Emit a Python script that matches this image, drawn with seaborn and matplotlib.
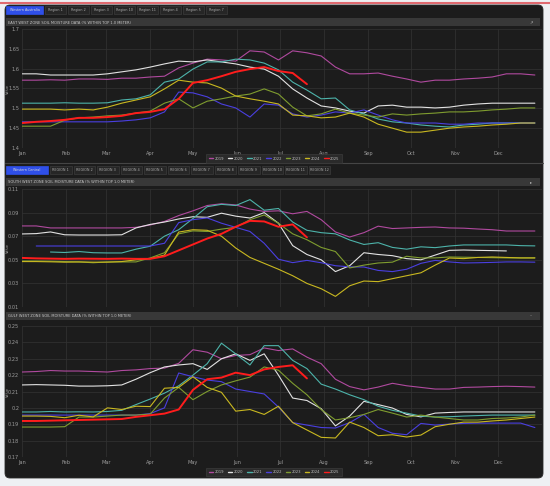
import numpy as np
import pandas as pd
import seaborn as sns
import matplotlib.pyplot as plt
from matplotlib.patches import Rectangle, FancyBboxPatch
from matplotlib.lines import Line2D
from matplotlib.ticker import FuncFormatter

nan = np.nan

years = ["2019", "2020", "2021", "2022", "2023", "2024", "2025"]
line_colors = ["#b04a9f", "#e2e2e2", "#4db3aa", "#4a3fe0", "#7f9c2f", "#c9b820", "#ff1c1c"]

months = ["Jan", "Feb", "Mar", "Apr", "May", "Jun", "Jul", "Aug", "Sep", "Oct", "Nov", "Dec"]
month_starts = [0, 31, 59, 90, 120, 151, 181, 212, 243, 273, 304, 334]

days = [0, 10, 20, 30, 40, 50, 60, 70, 80, 90, 100, 110, 120, 130, 140, 150, 160, 170, 180,
        190, 200, 210, 220, 230, 240, 250, 260, 270, 280, 290, 300, 310, 320, 330, 340, 350, 360]

top_ticks = [1.4, 1.45, 1.5, 1.55, 1.6, 1.65, 1.7]
mid_ticks = [0.01, 0.03, 0.05, 0.07, 0.09, 0.11]
bot_ticks = [0.17, 0.18, 0.19, 0.2, 0.21, 0.22, 0.23, 0.24, 0.25]

# ---- panel 1
top_2019 = [1.571, 1.571, 1.572, 1.571, 1.574, 1.574, 1.573, 1.576, 1.576, 1.579, 1.581, 1.602, 1.614,
            1.624, 1.622, 1.619, 1.645, 1.642, 1.622, 1.645, 1.640, 1.632, 1.604, 1.587, 1.587, 1.589,
            1.581, 1.574, 1.566, 1.571, 1.571, 1.574, 1.576, 1.579, 1.587, 1.587, 1.584]
top_2020 = [1.587, 1.587, 1.584, 1.584, 1.584, 1.584, 1.587, 1.592, 1.597, 1.604, 1.612, 1.619, 1.617,
            1.622, 1.617, 1.612, 1.604, 1.599, 1.581, 1.549, 1.526, 1.506, 1.501, 1.493, 1.488, 1.506,
            1.508, 1.503, 1.503, 1.501, 1.503, 1.508, 1.511, 1.513, 1.513, 1.513, 1.513]
top_2021 = [1.513, 1.513, 1.513, 1.514, 1.513, 1.513, 1.514, 1.521, 1.524, 1.534, 1.566, 1.574, 1.599,
            1.617, 1.617, 1.624, 1.622, 1.614, 1.597, 1.566, 1.546, 1.524, 1.526, 1.496, 1.486, 1.473,
            1.466, 1.463, 1.458, 1.455, 1.453, 1.458, 1.460, 1.463, 1.463, 1.463, 1.463]
top_2022 = [1.466, 1.466, 1.466, 1.466, 1.466, 1.466, 1.466, 1.468, 1.471, 1.476, 1.491, 1.541, 1.539,
            1.529, 1.511, 1.501, 1.478, 1.511, 1.508, 1.486, 1.478, 1.483, 1.491, 1.488, 1.496, 1.483,
            1.471, 1.463, 1.463, 1.463, 1.460, 1.460, 1.463, 1.463, 1.463, 1.463, 1.463]
top_2023 = [1.455, 1.455, 1.455, 1.470, 1.476, 1.478, 1.481, 1.483, 1.488, 1.493, 1.513, 1.524, 1.501,
            1.518, 1.524, 1.531, 1.536, 1.549, 1.536, 1.503, 1.481, 1.486, 1.498, 1.488, 1.483, 1.478,
            1.486, 1.483, 1.486, 1.488, 1.491, 1.491, 1.493, 1.496, 1.498, 1.501, 1.501]
top_2024 = [1.498, 1.498, 1.498, 1.496, 1.498, 1.496, 1.503, 1.513, 1.521, 1.529, 1.549, 1.571, 1.566,
            1.564, 1.551, 1.531, 1.524, 1.518, 1.511, 1.483, 1.481, 1.476, 1.478, 1.488, 1.478, 1.460,
            1.450, 1.440, 1.440, 1.445, 1.450, 1.453, 1.455, 1.458, 1.460, 1.463, 1.463]
top_2025 = [1.463, 1.466, 1.468, 1.471, 1.476, 1.476, 1.478, 1.481, 1.488, 1.491, 1.498, 1.524, 1.564,
            1.571, 1.581, 1.592, 1.599, 1.604, 1.594, 1.589, 1.561, nan, nan, nan, nan, nan,
            nan, nan, nan, nan, nan, nan, nan, nan, nan, nan, nan]

# ---- panel 2
mid_2019 = [0.0787, 0.0787, 0.0770, 0.0770, 0.0770, 0.0770, 0.0770, 0.0770, 0.0775, 0.0795, 0.0825,
            0.0875, 0.0915, 0.0960, 0.0975, 0.0965, 0.0930, 0.0910, 0.0915, 0.0890, 0.0910, 0.0840,
            0.0736, 0.0693, 0.0730, 0.0785, 0.0765, 0.0770, 0.0775, 0.0778, 0.0770, 0.0768, 0.0761,
            0.0755, 0.0744, 0.0744, 0.0744]
mid_2020 = [0.0719, 0.0722, 0.0736, 0.0712, 0.0710, 0.0710, 0.0710, 0.0712, 0.0770, 0.0800, 0.0820,
            0.0846, 0.0865, 0.0860, 0.0895, 0.0870, 0.0854, 0.0900, 0.0810, 0.0620, 0.0545, 0.0500,
            0.0400, 0.0450, 0.0560, 0.0545, 0.0535, 0.0510, 0.0500, 0.0540, 0.0580, 0.0583, 0.0580,
            0.0578, 0.0575, nan, nan]
mid_2021 = [nan, nan, 0.0566, 0.0562, 0.0570, 0.0560, 0.0558, 0.0558, 0.0590, 0.0615, 0.0700,
            0.0755, 0.0850, 0.0950, 0.0970, 0.0960, 0.1010, 0.0920, 0.0935, 0.0820, 0.0750, 0.0730,
            0.0720, 0.0668, 0.0630, 0.0645, 0.0605, 0.0590, 0.0610, 0.0603, 0.0617, 0.0626, 0.0626,
            0.0626, 0.0626, 0.0620, 0.0618]
mid_2022 = [nan, 0.0617, 0.0617, 0.0617, 0.0617, 0.0617, 0.0617, 0.0617, 0.0617, 0.0617, 0.0640,
            0.0815, 0.0840, 0.0855, 0.0810, 0.0775, 0.0740, 0.0640, 0.0505, 0.0476, 0.0495, 0.0475,
            0.0450, 0.0440, 0.0439, 0.0410, 0.0400, 0.0420, 0.0470, 0.0495, 0.0482, 0.0473, 0.0475,
            0.0478, 0.0482, 0.0482, 0.0480]
mid_2023 = [0.0490, 0.0490, 0.0488, 0.0485, 0.0482, 0.0475, 0.0482, 0.0482, 0.0482, 0.0516, 0.0560,
            0.0720, 0.0745, 0.0740, 0.0760, 0.0775, 0.0840, 0.0880, 0.0810, 0.0720, 0.0670, 0.0605,
            0.0570, 0.0431, 0.0455, 0.0473, 0.0480, 0.0530, 0.0516, 0.0516, 0.0524, 0.0522, 0.0520,
            0.0518, 0.0516, 0.0516, 0.0516]
mid_2024 = [0.0485, 0.0485, 0.0483, 0.0480, 0.0482, 0.0480, 0.0480, 0.0485, 0.0500, 0.0510, 0.0540,
            0.0735, 0.0755, 0.0750, 0.0700, 0.0600, 0.0520, 0.0470, 0.0420, 0.0365, 0.0300, 0.0255,
            0.0190, 0.0280, 0.0320, 0.0315, 0.0340, 0.0365, 0.0390, 0.0455, 0.0515, 0.0510, 0.0520,
            0.0524, 0.0520, 0.0516, 0.0516]
mid_2025 = [0.0516, 0.0512, 0.0510, 0.0508, 0.0510, 0.0509, 0.0508, 0.0510, 0.0508, 0.0508, 0.0530,
            0.0580, 0.0630, 0.0680, 0.0720, 0.0780, 0.0830, 0.0825, 0.0780, 0.0800, 0.0690, nan,
            nan, nan, nan, nan, nan, nan, nan, nan, nan, nan, nan, nan, nan, nan, nan]

# ---- panel 3
bot_2019 = [0.2219, 0.2222, 0.2228, 0.2225, 0.2225, 0.2222, 0.2219, 0.2228, 0.2232, 0.2240, 0.2243,
            0.2272, 0.2355, 0.2340, 0.2300, 0.2320, 0.2325, 0.2366, 0.2350, 0.2360, 0.2310, 0.2270,
            0.2175, 0.2130, 0.2110, 0.2127, 0.2150, 0.2135, 0.2125, 0.2115, 0.2115, 0.2125, 0.2127,
            0.2130, 0.2132, 0.2130, 0.2127]
bot_2020 = [0.2140, 0.2142, 0.2140, 0.2138, 0.2133, 0.2133, 0.2135, 0.2140, 0.2175, 0.2215, 0.2250,
            0.2262, 0.2270, 0.2235, 0.2300, 0.2330, 0.2290, 0.2330, 0.2200, 0.2060, 0.2045, 0.1995,
            0.1890, 0.1950, 0.2040, 0.2020, 0.1999, 0.1960, 0.1945, 0.1968, 0.1972, 0.1975, 0.1975,
            0.1975, 0.1975, 0.1975, 0.1975]
bot_2021 = [0.1975, 0.1975, 0.1978, 0.1975, 0.1976, 0.1975, 0.1978, 0.1985, 0.2020, 0.2054, 0.2090,
            0.2135, 0.2200, 0.2270, 0.2395, 0.2330, 0.2262, 0.2380, 0.2380, 0.2290, 0.2240, 0.2145,
            0.2115, 0.2080, 0.2050, 0.2010, 0.1985, 0.1968, 0.1950, 0.1944, 0.1946, 0.1950, 0.1953,
            0.1956, 0.1956, 0.1956, 0.1956]
bot_2022 = [0.1956, 0.1956, 0.1956, 0.1956, 0.1956, 0.1956, 0.1956, 0.1956, 0.1956, 0.1965, 0.2000,
            0.2213, 0.2190, 0.2170, 0.2160, 0.2115, 0.2100, 0.2085, 0.2005, 0.1910, 0.1895, 0.1880,
            0.1877, 0.1910, 0.1960, 0.1880, 0.1845, 0.1836, 0.1905, 0.1895, 0.1901, 0.1905, 0.1907,
            0.1907, 0.1907, 0.1907, 0.1880]
bot_2023 = [0.1883, 0.1883, 0.1883, 0.1885, 0.1944, 0.1944, 0.1950, 0.1956, 0.1956, 0.1962, 0.2060,
            0.2125, 0.2050, 0.2100, 0.2140, 0.2165, 0.2188, 0.2250, 0.2230, 0.2150, 0.2080, 0.1990,
            0.1926, 0.1940, 0.1960, 0.1990, 0.1968, 0.1944, 0.1956, 0.1944, 0.1935, 0.1926, 0.1926,
            0.1935, 0.1938, 0.1944, 0.1956]
bot_2024 = [0.1950, 0.1950, 0.1948, 0.1940, 0.1955, 0.1945, 0.2000, 0.1990, 0.2010, 0.2008, 0.2120,
            0.2125, 0.2190, 0.2125, 0.2095, 0.1980, 0.1990, 0.1960, 0.2010, 0.1910, 0.1865, 0.1820,
            0.1816, 0.1913, 0.1880, 0.1830, 0.1836, 0.1822, 0.1834, 0.1885, 0.1900, 0.1913, 0.1913,
            0.1920, 0.1926, 0.1935, 0.1944]
bot_2025 = [0.1920, 0.1920, 0.1922, 0.1924, 0.1926, 0.1928, 0.1930, 0.1932, 0.1945, 0.1955, 0.1965,
            0.1990, 0.2110, 0.2175, 0.2185, 0.2215, 0.2200, 0.2235, 0.2250, 0.2260, 0.2180, nan,
            nan, nan, nan, nan, nan, nan, nan, nan, nan, nan, nan, nan, nan, nan, nan]

top_tabs = ["Western Australia", "Region 1", "Region 2", "Region 3", "Region 10", "Region 11",
            "Region 4", "Region 5", "Region 7"]
mid_tabs = ["Western Central", "REGION 1", "REGION 2", "REGION 3", "REGION 4", "REGION 5", "REGION 6",
            "REGION 7", "REGION 8", "REGION 9", "REGION 10", "REGION 11", "REGION 12"]
titles = ["EAST WEST ZONE SOIL MOISTURE DATA (% WITHIN TOP 1.0 METER)",
          "SOUTH WEST ZONE SOIL MOISTURE DATA (% WITHIN TOP 1.0 METER)",
          "GULF WEST ZONE SOIL MOISTURE DATA (% WITHIN TOP 1.0 METER)"]
ylabel = "Value"


def long_frame(series):
    rows = []
    for yr, vals in zip(years, series):
        for d, v in zip(days, vals):
            rows.append({"day": d, "value": v, "year": yr})
    return pd.DataFrame(rows).dropna()


panels = [
    (long_frame([top_2019, top_2020, top_2021, top_2022, top_2023, top_2024, top_2025]), top_ticks),
    (long_frame([mid_2019, mid_2020, mid_2021, mid_2022, mid_2023, mid_2024, mid_2025]), mid_ticks),
    (long_frame([bot_2019, bot_2020, bot_2021, bot_2022, bot_2023, bot_2024, bot_2025]), bot_ticks),
]

sns.set_theme(style="dark")
plt.rcParams["font.family"] = ["DejaVu Sans"]

W, H = 550, 486
fig = plt.figure(figsize=(W / 100, H / 100), dpi=100)
fig.patch.set_facecolor("#eef0f3")

# background / chrome drawn in pixel coords
bg = fig.add_axes([0, 0, 1, 1], zorder=0)
bg.set_xlim(0, W)
bg.set_ylim(H, 0)
bg.axis("off")

PANEL = "#1c1c1c"
BAR = "#383838"
bg.add_patch(FancyBboxPatch((5, 5), 538, 473, boxstyle="round,pad=0,rounding_size=5",
                            facecolor=PANEL, edgecolor="#2a2a2a", linewidth=0.6))
bg.plot([0, W], [3.5, 3.5], color="#e06a70", linewidth=1.5)


def tab_row(labels, y, first_w, w):
    x = 6
    for i, lab in enumerate(labels):
        bw = first_w if i == 0 else w
        fc = "#2f4fe8" if i == 0 else "#262626"
        ec = "#2f4fe8" if i == 0 else "#3c3c3c"
        bg.add_patch(Rectangle((x, y), bw, 8.5, facecolor=fc, edgecolor=ec, linewidth=0.5))
        bg.text(x + bw / 2, y + 4.4, lab, fontsize=2.4, color="#d8d8d8" if i == 0 else "#aaaaaa",
                ha="center", va="center")
        x += bw + 2


def title_bar(y, text, icon):
    bg.add_patch(Rectangle((6, y), 534, 8, facecolor=BAR, edgecolor="none"))
    bg.text(8, y + 4.1, text, fontsize=2.6, color="#c8c8c8", ha="left", va="center")
    bg.text(531, y + 4.1, icon, fontsize=3, color="#bbbbbb", ha="center", va="center")


tab_row(top_tabs, 6, 37, 21)
title_bar(18.5, titles[0], "\u2197")
bg.plot([5, 543], [163.5, 163.5], color="#454545", linewidth=0.8)
tab_row(mid_tabs, 165.5, 42, 21.5)
title_bar(178, titles[1], "\u25b8")
title_bar(311.5, titles[2], "\u2013")

# plot axes: (top, bottom) in pixels
ax_pix = [(29, 148), (189, 307), (326, 457)]
x0, x1 = 22, 542
palette = dict(zip(years, line_colors))
widths = {yr: 0.8 for yr in years}
widths["2025"] = 1.4

axes = []
for i, ((df, ticks), (ytop, ybot)) in enumerate(zip(panels, ax_pix)):
    ax = fig.add_axes([x0 / W, 1 - ybot / H, (x1 - x0) / W, (ybot - ytop) / H], zorder=1)
    ax.set_facecolor(PANEL)
    sns.lineplot(data=df, x="day", y="value", hue="year", size="year", hue_order=years,
                 size_order=years, palette=palette, sizes=widths, estimator=None,
                 legend=False, ax=ax)
    ax.set_xlim(0, 365)
    ax.set_ylim(ticks[0], ticks[-1])
    ax.set_yticks(ticks)
    ax.yaxis.set_major_formatter(FuncFormatter(lambda v, p: f"{v:g}"))
    ax.set_xticks(month_starts)
    ax.set_xticklabels(months if i != 1 else [""] * 12)
    ax.tick_params(axis="both", length=0, labelsize=3.6, labelcolor="#9c9c9c", pad=2)
    ax.grid(True, color="#333333", linewidth=0.5)
    for s in ax.spines.values():
        s.set_visible(False)
    ax.set_xlabel("")
    ax.set_ylabel("")
    # rotated unit label sitting left of the tick labels
    bg.text(7.5, (ytop + ybot) / 2, ylabel, rotation=90, fontsize=2.6, color="#9c9c9c",
            ha="center", va="center")
    axes.append(ax)

handles = [Line2D([0], [0], color=c, linewidth=1.0) for c in line_colors]
for ycen in (158.5, 472):
    leg = fig.legend(handles, years, loc="center", bbox_to_anchor=(274 / W, 1 - ycen / H),
                     ncol=7, fontsize=2.7, frameon=True, facecolor="#2a2a2a", edgecolor="#3a3a3a",
                     handlelength=1.2, handletextpad=0.4, columnspacing=1.0, borderpad=0.35,
                     framealpha=1)
    leg.get_frame().set_linewidth(0.5)
    leg.get_frame().set_boxstyle("square", pad=0.2)
    for t in leg.get_texts():
        t.set_color("#bdbdbd")

fig.savefig("out.png", dpi=100, facecolor=fig.get_facecolor())
